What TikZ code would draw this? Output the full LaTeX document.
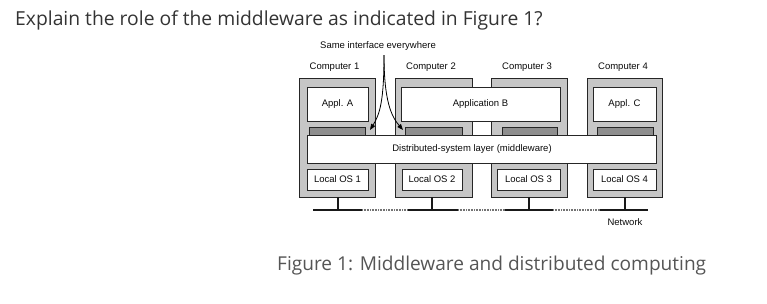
\documentclass[tikz,border=0pt]{standalone}
\usepackage{fontspec}
\setmainfont{Open Sans}
\newfontfamily\diagfont{Liberation Sans}
\usetikzlibrary{arrows.meta}
\definecolor{titlegray}{HTML}{333333}
\definecolor{capgray}{HTML}{555555}
\definecolor{compgray}{HTML}{C6C6C6}
\definecolor{darkgray2}{HTML}{8E8E8E}
\definecolor{diagtext}{HTML}{0A0A0A}
\begin{document}
\begin{tikzpicture}[x=1pt,y=-1pt,
  comp/.style={draw=black!85, fill=compgray, line width=0.9pt, minimum width=#1, minimum height=119pt, inner sep=0pt},
  wbox/.style={draw=black!85, fill=white, line width=0.9pt, inner sep=0pt},
  dbox/.style={draw=black!85, fill=darkgray2, line width=0.8pt, inner sep=0pt, minimum height=8pt},
  lbl/.style={font=\diagfont\fontsize{9.5}{11}\selectfont, text=diagtext, inner sep=0pt},
  net/.style={line width=2.2pt, black!90},
  netdot/.style={line width=2.2pt, black!55, dash pattern=on 1pt off 0.6pt},
  stem/.style={line width=2pt, black!90},
  pointer/.style={line width=0.8pt, black, -{Triangle[length=6pt,width=4.5pt]}}
]
\useasboundingbox (0,0) rectangle (767,303);
% title and caption
\node[anchor=base west, inner sep=0pt, text=titlegray, font=\fontsize{19.3}{22}\selectfont] (title) at (15,25) {Explain the role of the middleware as indicated in Figure 1?};
\node[anchor=base west, inner sep=0pt, text=capgray, font=\fontsize{19.1}{22}\selectfont] (caption) at (277,270) {Figure 1: Middleware and distributed computing};

% computers
\node[comp=76pt] (c1) at (337,137.5) {};
\node[comp=77pt] (c2) at (433.5,137.5) {};
\node[comp=76pt] (c3) at (529,137.5) {};
\node[comp=75pt] (c4) at (624.5,137.5) {};

% dark grey bars
\node[dbox, minimum width=56pt] (d1) at (337,131) {};
\node[dbox, minimum width=57pt] (d2) at (433.5,131) {};
\node[dbox, minimum width=55pt] (d3) at (529.5,131) {};
\node[dbox, minimum width=56pt] (d4) at (625,131) {};

% applications
\node[wbox, minimum width=61pt, minimum height=34pt] (appa) at (337.5,104) {};
\node[wbox, minimum width=159pt, minimum height=34pt] (appb) at (480.5,104) {};
\node[wbox, minimum width=63pt, minimum height=34pt] (appc) at (624.5,104) {};
\node[lbl] at (appa) {Appl. A};
\node[lbl] at (appb) {Application B};
\node[lbl] at (appc) {Appl. C};

% middleware
\node[wbox, minimum width=349pt, minimum height=28pt] (mw) at (481.5,149) {};
\node[lbl] (mwt) at (472,149) {Distributed-system layer (middleware)};

% local OS
\node[wbox, minimum width=61pt, minimum height=21pt] (os1) at (337.5,179.5) {};
\node[wbox, minimum width=60pt, minimum height=21pt] (os2) at (432,179.5) {};
\node[wbox, minimum width=63pt, minimum height=21pt] (os3) at (528.5,179.5) {};
\node[wbox, minimum width=63pt, minimum height=21pt] (os4) at (624.5,179.5) {};
\node[lbl] at (os1) {Local OS 1};
\node[lbl] at (os2) {Local OS 2};
\node[lbl] at (os3) {Local OS 3};
\node[lbl] at (os4) {Local OS 4};

% computer labels
\node[lbl] (l1) at (334.5,67) {Computer 1};
\node[lbl] (l2) at (431,67) {Computer 2};
\node[lbl] (l3) at (527,67) {Computer 3};
\node[lbl] (l4) at (623,67) {Computer 4};
\node[lbl] (same) at (378,46) {Same interface everywhere};
\node[lbl] (netl) at (625,222) {Network};

% network
\coordinate (n0) at (313,210);
\coordinate (n1) at (362,210);
\coordinate (n2) at (408,210);
\coordinate (n3) at (458,210);
\coordinate (n4) at (505,210);
\coordinate (n5) at (553,210);
\coordinate (n6) at (600,210);
\coordinate (n7) at (648,210);
\draw[netdot] (n1) -- (n2);
\draw[netdot] (n3) -- (n4);
\draw[netdot] (n5) -- (n6);
\draw[net] (n0) -- (n1);
\draw[net] (n2) -- (n3);
\draw[net] (n4) -- (n5);
\draw[net] (n6) -- (n7);
\draw[stem] (c1.south -| 338,0) -- (338,211);
\draw[stem] (c2.south -| 432,0) -- (432,211);
\draw[stem] (c3.south -| 529,0) -- (529,211);
\draw[stem] (c4.south -| 625,0) -- (625,211);

% pointers
\coordinate (sp) at (384,55);
\coordinate (tipl) at (370,130);
\coordinate (tipr) at (403,130);
\draw[pointer] (sp) .. controls (384,100) and (380,114) .. (tipl);
\draw[pointer] (sp) .. controls (384,100) and (391,116) .. (tipr);
\end{tikzpicture}
\end{document}
